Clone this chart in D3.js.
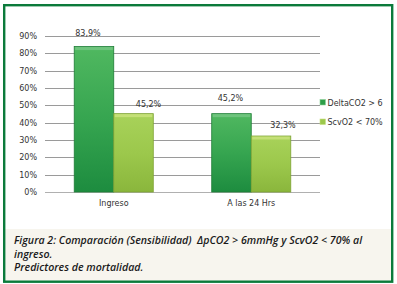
<!DOCTYPE html>
<html><head><meta charset="utf-8">
<script src="https://cdn.jsdelivr.net/npm/d3@7"></script>
<style>body{margin:0;background:#fff}svg{display:block}</style>
</head><body><svg id="c" width="397" height="284"></svg>
<script>
const categories = ["Ingreso", "A las 24 Hrs"];
const seriesNames = ["DeltaCO2 > 6", "ScvO2 < 70%"];
const deltaCO2 = [83.9, 45.2];
const scvO2 = [45.2, 32.3];
const valueLabels = [["83,9%", "45,2%"], ["45,2%", "32,3%"]];
const yTicks = [0, 10, 20, 30, 40, 50, 60, 70, 80, 90];
const captionLines = ["Figura 2: Comparación (Sensibilidad)  ΔpCO2 > 6mmHg y ScvO2 < 70% al", "ingreso.", "Predictores de mortalidad."];

const svg = d3.select("#c");
const defs = svg.append("defs");
function grad(id, c1, c2, c3) {
  const g = defs.append("linearGradient").attr("id", id).attr("x1", 0).attr("y1", 0).attr("x2", 0).attr("y2", 1);
  g.append("stop").attr("offset", "0%").attr("stop-color", c1);
  g.append("stop").attr("offset", "50%").attr("stop-color", c2);
  g.append("stop").attr("offset", "100%").attr("stop-color", c3);
}
grad("gDark", "#50b860", "#36a550", "#1d8c3f");
grad("gLight", "#a8d25a", "#9cc84c", "#8ab63c");
const fills = ["url(#gDark)", "url(#gLight)"];
const edges = ["#1f7d37", "#7ea334"];
const tops = ["#7cc98a", "#d0e685"];

// caption background
svg.append("rect").attr("x", 5).attr("y", 229).attr("width", 387).attr("height", 52).attr("fill", "#f7f5ee");
// frame
svg.append("rect").attr("x", 4.2).attr("y", 5.2).attr("width", 388).attr("height", 276.5)
  .attr("fill", "none").attr("stroke", "#0b7a3b").attr("stroke-width", 2.4);

const x0 = d3.scaleBand().domain(categories).range([45, 320]).paddingInner(0.425).paddingOuter(0.2125);
const x1 = d3.scaleBand().domain(seriesNames).range([0, x0.bandwidth()]);
const y = d3.scaleLinear().domain([0, 90]).range([192, 36]);

const font = "DejaVu Sans, Verdana, sans-serif";
const yAxis = d3.axisLeft(y).tickValues(yTicks).tickFormat(d => d + "%").tickSize(0).tickPadding(8);
const gy = svg.append("g").attr("transform", "translate(45,0)").call(yAxis);
gy.select(".domain").remove();
gy.selectAll("text").attr("font-family", font).attr("font-size", 8).attr("fill", "#333");
svg.append("g").selectAll("line").data(yTicks).join("line")
  .attr("x1", 45).attr("x2", 320).attr("y1", d => Math.round(y(d)) + 0.5).attr("y2", d => Math.round(y(d)) + 0.5)
  .attr("stroke", d => d === 0 ? "#b0b0b0" : "#9a9a9a").attr("stroke-width", 1);

const series = [deltaCO2, scvO2];
categories.forEach((c, ci) => {
  const g = svg.append("g").attr("transform", `translate(${x0(c)},0)`);
  seriesNames.forEach((s, si) => {
    const v = series[si][ci];
    const bx = x1(s), bw = x1.bandwidth();
    g.append("rect").attr("x", bx).attr("y", y(v)).attr("width", bw).attr("height", y(0) - y(v))
      .attr("fill", fills[si]).attr("stroke", edges[si]).attr("stroke-width", 0.8);
    g.append("rect").attr("x", bx + 1).attr("y", y(v) + 0.5).attr("width", bw - 2).attr("height", 3)
      .attr("fill", tops[si]).attr("opacity", 0.7);
  });
});

// value labels
const labelNudge = [[[-6, -11], [15, -7]], [[-1, -13], [12, -8]]];
categories.forEach((c, ci) => {
  seriesNames.forEach((s, si) => {
    const v = series[si][ci];
    const cx = x0(c) + x1(s) + x1.bandwidth() / 2;
    svg.append("text").attr("x", cx + labelNudge[ci][si][0]).attr("y", y(v) + labelNudge[ci][si][1])
      .attr("text-anchor", "middle").attr("font-family", font).attr("font-size", 8).attr("fill", "#333")
      .text(valueLabels[ci][si]);
  });
});

// x axis labels
const xAxis = d3.axisBottom(x0).tickSize(0).tickPadding(0);
const gx = svg.append("g").attr("transform", "translate(0,192)").call(xAxis);
gx.select(".domain").remove();
gx.selectAll("text").attr("font-family", font).attr("font-size", 8).attr("fill", "#333").attr("dy", "1.72em");

// legend
const legendColors = ["#2e9e48", "#9cc84c"];
const lg = svg.append("g").selectAll("g").data(seriesNames).join("g")
  .attr("transform", (d, i) => `translate(320,${102.5 + i * 19.5})`);
lg.append("rect").attr("x", 0).attr("y", -3).attr("width", 5.5).attr("height", 5.5)
  .attr("fill", (d, i) => legendColors[i]).attr("stroke", (d, i) => i ? "#c8df80" : "#8fd39c").attr("stroke-width", 0.6);
lg.append("text").attr("x", 7.5).attr("y", 3).attr("font-family", font).attr("font-size", 8).attr("fill", "#333").text(d => d);

// caption
svg.append("g").selectAll("text").data(captionLines).join("text")
  .attr("x", 14).attr("y", (d, i) => 244 + i * 13.5)
  .style("white-space", "pre")
  .attr("font-family", "Open Sans, sans-serif").attr("font-style", "italic").attr("font-weight", 600)
  .attr("font-size", 10.6).attr("fill", "#1a1a1a").text(d => d);
</script></body></html>
